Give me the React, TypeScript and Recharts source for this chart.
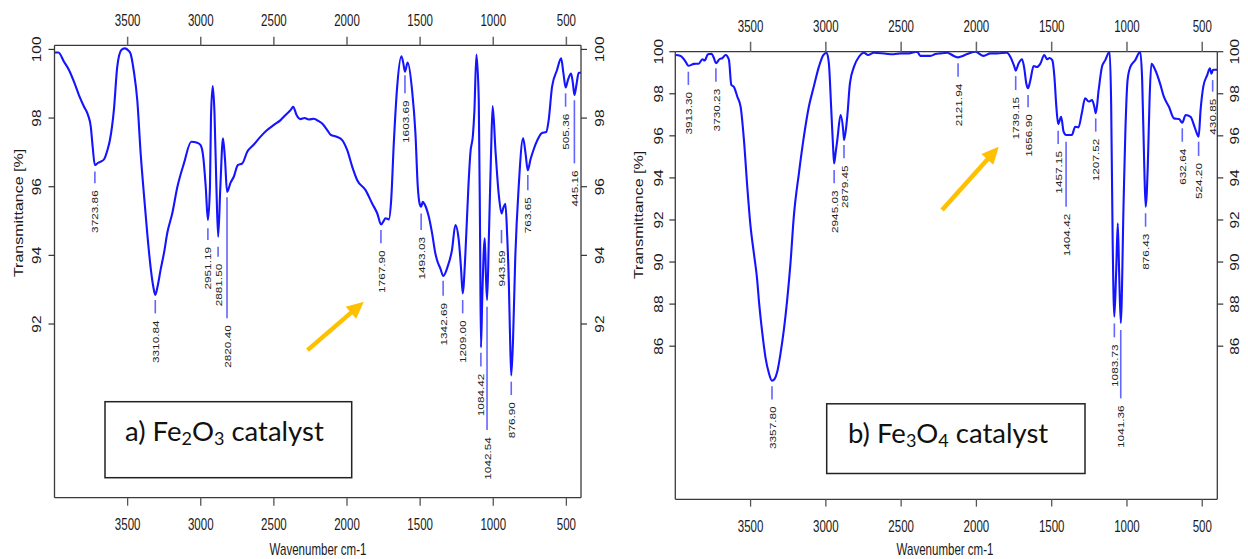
import React from 'react';
import { ComposedChart, Line, XAxis, YAxis, Scatter, ReferenceLine } from 'recharts';

// ---------------- Data: a) Fe2O3 catalyst ----------------
const fe2o3Wavenumber = [
  4000, 3973, 3935, 3901, 3867, 3833, 3798, 3771, 3752, 3739, 3724, 3700, 3684, 3661, 3638, 3621, 3594, 3571, 3543, 3520,
  3495, 3480, 3457, 3434, 3411, 3389, 3366, 3343, 3325, 3311, 3295, 3275, 3250, 3229, 3195, 3160, 3115, 3065, 3024, 3001,
  2983, 2966, 2951, 2937, 2930, 2918, 2906, 2893, 2881, 2866, 2848, 2834, 2820, 2796, 2774, 2747, 2716, 2682, 2637, 2591,
  2546, 2500, 2454, 2420, 2386, 2368, 2345, 2318, 2290, 2261, 2227, 2193, 2170, 2135, 2113, 2067, 2033, 1999, 1964, 1930,
  1873, 1828, 1793, 1767, 1750, 1737, 1714, 1698, 1680, 1657, 1628, 1615, 1604, 1585, 1555, 1532, 1516, 1503, 1493, 1482,
  1471, 1441, 1418, 1396, 1384, 1360, 1342, 1312, 1282, 1259, 1236, 1220, 1209, 1191, 1170, 1156, 1139, 1129, 1115, 1099,
  1090, 1084, 1075, 1058, 1050, 1042, 1030, 1015, 1004, 985, 963, 943, 930, 917, 905, 894, 885, 877, 865, 850,
  826, 796, 780, 764, 745, 725, 698, 668, 637, 621, 598, 564, 536, 520, 505, 490, 468, 455, 445, 430,
  416, 400,
];
const fe2o3Transmittance = [
  99.91, 99.91, 99.64, 99.4, 99.06, 98.67, 98.33, 98.09, 97.75, 97.16, 96.63, 96.7, 96.73, 96.8, 97.07, 97.36, 98.23, 99.49, 99.98, 100.03,
  99.97, 99.88, 99.35, 98.52, 96.98, 95.8, 94.65, 93.66, 93.1, 92.85, 93.1, 93.57, 94.1, 94.65, 95.22, 95.99, 96.68, 97.31, 97.28, 97.21,
  96.87, 96.0, 95.03, 96.0, 98.04, 98.93, 98.14, 96.0, 94.54, 96.0, 97.41, 96.78, 95.85, 96.12, 96.29, 96.63, 96.68, 97.02, 97.23, 97.46,
  97.65, 97.8, 97.94, 98.09, 98.23, 98.33, 98.09, 97.97, 98.0, 97.96, 97.98, 97.91, 97.84, 97.65, 97.52, 97.45, 97.36, 97.07, 96.58, 96.19,
  95.9, 95.51, 95.22, 94.9, 95.0, 95.08, 95.05, 95.61, 97.27, 98.91, 99.8, 99.6, 99.35, 99.62, 98.81, 97.55, 96.0, 95.5, 95.42, 95.56,
  95.5, 95.13, 94.64, 94.06, 93.86, 93.6, 93.4, 93.67, 94.16, 94.88, 94.45, 93.6, 92.89, 94.0, 96.0, 97.0, 97.5, 98.2, 99.85, 98.52,
  94.5, 91.32, 92.8, 94.5, 93.4, 92.7, 94.5, 97.0, 98.35, 97.07, 95.8, 95.22, 95.4, 95.5, 94.6, 93.3, 91.6, 90.5, 91.5, 93.86,
  96.0, 97.41, 97.0, 96.48, 96.8, 97.07, 97.36, 97.56, 97.6, 97.94, 98.91, 99.4, 99.74, 99.3, 98.89, 99.1, 99.3, 99.0, 98.67, 99.0,
  99.32, 99.32,
];
const fe2o3PeakLabels = [
  '3723.86', '3310.84', '2951.19', '2881.50', '2820.40', '1767.90', '1603.69', '1493.03', '1342.69',
  '1209.00', '1084.42', '1042.54', '943.59', '876.90', '763.65', '505.36', '445.16',
];
const fe2o3PeakLineTop = [96.44, 92.7, 94.79, 94.25, 95.69, 94.74, 99.25, 95.22, 93.26, 92.7, 91.16, 92.5, 94.74, 90.32, 96.34, 98.72, 98.52];
const fe2o3PeakLineBottom = [96.1, 92.31, 94.45, 93.96, 92.17, 94.35, 98.72, 94.74, 92.82, 92.31, 90.76, 88.91, 94.35, 89.93, 95.9, 98.33, 96.68];
const fe2o3ArrowTail = { x: 2270, y: 91.24 };
const fe2o3ArrowHead = { x: 1885, y: 92.65 };
const fe2o3YTicks = [92, 94, 96, 98, 100];
const fe2o3YDomain: [number, number] = [86.94, 100.12];

// ---------------- Data: b) Fe3O4 catalyst ----------------
const fe3o4Wavenumber = [
  4000, 3965, 3931, 3913, 3876, 3845, 3820, 3805, 3783, 3760, 3743, 3730, 3707, 3687, 3666, 3644, 3628, 3611, 3588, 3566,
  3544, 3522, 3500, 3478, 3456, 3445, 3422, 3400, 3378, 3358, 3340, 3323, 3301, 3279, 3257, 3235, 3213, 3179, 3146, 3113,
  3080, 3046, 3017, 2995, 2980, 2964, 2951, 2945, 2935, 2924, 2902, 2885, 2879, 2858, 2840, 2813, 2780, 2747, 2720, 2681,
  2600, 2550, 2500, 2450, 2394, 2372, 2305, 2272, 2239, 2194, 2150, 2122, 2090, 2062, 2007, 1952, 1907, 1863, 1797, 1775,
  1748, 1739, 1720, 1697, 1682, 1669, 1657, 1643, 1620, 1598, 1576, 1549, 1531, 1514, 1496, 1482, 1469, 1457, 1437, 1421,
  1404, 1366, 1344, 1322, 1300, 1278, 1254, 1232, 1217, 1207, 1188, 1166, 1144, 1115, 1105, 1095, 1084, 1072, 1061, 1052,
  1041, 1022, 1011, 996, 978, 945, 912, 899, 885, 876, 862, 850, 838, 812, 779, 755, 721, 688, 654, 633,
  610, 577, 555, 540, 524, 511, 493, 467, 449, 439, 428, 400,
];
const fe3o4Transmittance = [
  99.84, 99.8, 99.52, 99.33, 99.42, 99.43, 99.64, 99.58, 99.88, 99.9, 99.69, 99.45, 99.64, 99.7, 99.84, 99.62, 98.42, 98.33, 97.86, 97.38,
  95.8, 93.58, 91.68, 90.41, 89.14, 88.19, 86.62, 85.42, 84.71, 84.36, 84.45, 84.78, 85.66, 86.77, 88.19, 89.94, 92.15, 94.22, 95.96, 97.38,
  98.34, 99.29, 99.84, 99.95, 99.45, 97.23, 95.33, 94.69, 95.2, 95.8, 96.99, 96.28, 95.8, 96.9, 98.5, 99.29, 99.76, 99.95, 99.84, 99.95,
  99.9, 99.88, 99.92, 99.92, 100.0, 99.8, 99.8, 99.89, 99.92, 99.95, 99.8, 99.73, 99.8, 99.89, 100.0, 99.8, 99.92, 99.92, 99.95, 99.76,
  99.29, 99.1, 99.44, 99.64, 99.21, 98.5, 98.26, 98.6, 99.32, 99.27, 99.42, 99.84, 99.64, 99.7, 99.6, 98.81, 97.38, 96.56, 96.91, 96.2,
  96.04, 96.04, 96.43, 96.4, 97.07, 97.78, 97.63, 97.7, 97.39, 97.07, 98.18, 99.29, 99.6, 100.0, 97.5, 91.0, 87.4, 89.5, 91.84, 89.5,
  87.1, 92.95, 96.1, 98.65, 99.27, 99.6, 100.0, 98.65, 94.53, 92.63, 94.5, 97.7, 99.42, 99.13, 98.46, 97.86, 97.38, 96.83, 96.8, 96.62,
  96.99, 96.9, 96.51, 96.2, 95.96, 97.23, 98.34, 98.89, 99.21, 98.96, 99.14, 99.14,
];
const fe3o4PeakLabels = [
  '3913.30', '3730.23', '3357.80', '2945.03', '2879.45', '2121.94', '1739.15', '1656.90', '1457.15',
  '1404.42', '1207.52', '1083.73', '1041.36', '876.43', '632.64', '524.20', '430.85',
];
const fe3o4PeakLineTop = [99.05, 99.21, 84.1, 94.37, 95.56, 99.45, 98.84, 97.94, 96.24, 95.72, 96.83, 87.08, 86.77, 92.32, 96.36, 95.72, 98.65];
const fe3o4PeakLineBottom = [98.42, 98.57, 83.47, 93.74, 94.93, 98.81, 98.18, 97.36, 95.61, 92.63, 96.2, 86.42, 83.52, 91.68, 95.72, 95.04, 98.1];
const fe3o4ArrowTail = { x: 2228, y: 92.47 };
const fe3o4ArrowHead = { x: 1852, y: 95.48 };
const fe3o4YTicks = [86, 88, 90, 92, 94, 96, 98, 100];
const fe3o4YDomain: [number, number] = [78.72, 100.0];

// shared
const xTicks = [3500, 3000, 2500, 2000, 1500, 1000, 500];
const xDomain: [number, number] = [400, 4000];

// ---------------- rendering helpers ----------------
const FONT = '"Liberation Sans", Arial, Helvetica, sans-serif';
const SQX = 0.72;
const AXIS_COLOR = '#3a3a3a';
const CURVE_COLOR = '#1414ff';
const PEAK_LINE_COLOR = '#6464ff';

const XTick = (props: any) => {
  const { x, y, payload } = props;
  return (
    <text
      transform={`translate(${x},${y}) scale(${SQX},1)`}
      textAnchor="middle"
      dominantBaseline="central"
      fontSize={16}
      fontFamily={FONT}
      fill="#1a1a1a"
    >
      {payload.value}
    </text>
  );
};

const YTick = (props: any) => {
  const { x, y, payload } = props;
  return (
    <text
      transform={`translate(${x},${y}) scale(0.8,1) rotate(-90)`}
      textAnchor="middle"
      dominantBaseline="central"
      fontSize={15.5}
      fontFamily={FONT}
      fill="#1a1a1a"
    >
      {payload.value}
    </text>
  );
};

const PeakLabel = (props: any) => {
  const { cx, cy, payload } = props;
  if (cx == null || cy == null) return <g />;
  return (
    <text
      transform={`translate(${cx},${cy + 7}) scale(0.82,1) rotate(-90)`}
      textAnchor="end"
      dominantBaseline="central"
      fontSize={11.8}
      fontFamily={FONT}
      fill="#222"
    >
      {payload.label}
    </text>
  );
};

const ArrowShape = (props: any) => {
  const { x1, y1, x2, y2 } = props;
  if ([x1, y1, x2, y2].some((v) => v == null || Number.isNaN(v))) return <g />;
  const dx = x2 - x1;
  const dy = y2 - y1;
  const len = Math.hypot(dx, dy) || 1;
  const ux = dx / len;
  const uy = dy / len;
  const headLen = 17;
  const headW = 8;
  const bx = x2 - ux * headLen;
  const by = y2 - uy * headLen;
  const px = -uy;
  const py = ux;
  return (
    <g>
      <line x1={x1} y1={y1} x2={bx + ux} y2={by + uy} stroke="#FFC000" strokeWidth={4.5} />
      <polygon
        points={`${x2},${y2} ${bx + px * headW},${by + py * headW} ${bx - px * headW},${by - py * headW}`}
        fill="#FFC000"
      />
    </g>
  );
};

type PanelProps = {
  left: number;
  width: number;
  height: number;
  plotLeft: number;
  plotTop: number;
  plotRight: number;
  plotBottom: number;
  topTick: [number, number];
  bottomTick: [number, number];
  leftTick: [number, number];
  rightTick: [number, number];
  yDomain: [number, number];
  yTicks: number[];
  wavenumber: number[];
  transmittance: number[];
  peakLabels: string[];
  peakTop: number[];
  peakBottom: number[];
  arrowTail: { x: number; y: number };
  arrowHead: { x: number; y: number };
};

function Panel(p: PanelProps) {
  const series = p.wavenumber.map((w, i) => ({ w, t: p.transmittance[i] }));
  const peaks = p.peakLabels.map((label, i) => ({
    w: parseFloat(label),
    top: p.peakTop[i],
    bottom: p.peakBottom[i],
    label,
  }));
  return (
    <div style={{ position: 'absolute', left: p.left, top: 0, width: p.width, height: p.height }}>
      <ComposedChart width={p.width} height={p.height} margin={{ top: 0, right: 0, bottom: 0, left: 0 }}>
        <XAxis
          xAxisId="t"
          orientation="top"
          type="number"
          dataKey="w"
          domain={xDomain}
          allowDataOverflow
          reversed
          ticks={xTicks}
          height={p.plotTop}
          tickSize={p.topTick[0]}
          tickMargin={p.topTick[1]}
          tick={XTick}
          stroke={AXIS_COLOR}
          axisLine={{ stroke: AXIS_COLOR, strokeWidth: 1.3 }}
          tickLine={{ stroke: '#666', strokeWidth: 1.5 }}
        />
        <XAxis
          xAxisId="b"
          orientation="bottom"
          type="number"
          dataKey="w"
          domain={xDomain}
          allowDataOverflow
          reversed
          ticks={xTicks}
          height={p.height - p.plotBottom}
          tickSize={p.bottomTick[0]}
          tickMargin={p.bottomTick[1]}
          tick={XTick}
          stroke={AXIS_COLOR}
          axisLine={{ stroke: AXIS_COLOR, strokeWidth: 1.3 }}
          tickLine={{ stroke: '#555', strokeWidth: 1.3 }}
        />
        <YAxis
          yAxisId="l"
          orientation="left"
          type="number"
          domain={p.yDomain}
          allowDataOverflow
          ticks={p.yTicks}
          width={p.plotLeft}
          tickSize={p.leftTick[0]}
          tickMargin={p.leftTick[1]}
          tick={YTick}
          stroke={AXIS_COLOR}
          axisLine={{ stroke: AXIS_COLOR, strokeWidth: 1.3 }}
          tickLine={{ stroke: '#333', strokeWidth: 1.2 }}
        />
        <YAxis
          yAxisId="r"
          orientation="right"
          type="number"
          domain={p.yDomain}
          allowDataOverflow
          ticks={p.yTicks}
          width={p.width - p.plotRight}
          tickSize={p.rightTick[0]}
          tickMargin={p.rightTick[1]}
          tick={YTick}
          stroke={AXIS_COLOR}
          axisLine={{ stroke: AXIS_COLOR, strokeWidth: 1.3 }}
          tickLine={{ stroke: '#333', strokeWidth: 1.2 }}
        />
        {peaks.map((pk) => (
          <ReferenceLine
            key={'pl' + pk.label}
            xAxisId="b"
            yAxisId="l"
            segment={[
              { x: pk.w, y: pk.top },
              { x: pk.w, y: pk.bottom },
            ]}
            stroke={PEAK_LINE_COLOR}
            strokeWidth={1.6}
            ifOverflow="visible"
          />
        ))}
        <Line
          xAxisId="b"
          yAxisId="l"
          data={series}
          dataKey="t"
          type="monotone"
          stroke={CURVE_COLOR}
          strokeWidth={2.1}
          dot={false}
          activeDot={false}
          isAnimationActive={false}
        />
        <Scatter
          xAxisId="b"
          yAxisId="l"
          data={peaks}
          dataKey="bottom"
          shape={PeakLabel}
          isAnimationActive={false}
        />
        <ReferenceLine
          xAxisId="b"
          yAxisId="l"
          segment={[p.arrowTail, p.arrowHead]}
          shape={ArrowShape}
          ifOverflow="visible"
        />
      </ComposedChart>
    </div>
  );
}

function Overlay() {
  const titleStyle = { fontFamily: FONT, fontSize: 16, fill: '#1a1a1a' } as const;
  const boxFont = 'Lato, "Open Sans", sans-serif';
  return (
    <svg
      width={1248}
      height={559}
      style={{ position: 'absolute', left: 0, top: 0, pointerEvents: 'none' }}
    >
      {/* axis titles */}
      <text transform={`translate(19,213) scale(0.78,1) rotate(-90)`} textAnchor="middle" dominantBaseline="central" {...titleStyle}>
        Transmittance [%]
      </text>
      <text transform={`translate(639,215) scale(0.78,1) rotate(-90)`} textAnchor="middle" dominantBaseline="central" {...titleStyle}>
        Transmittance [%]
      </text>
      <text transform={`translate(318,549) scale(${SQX},1)`} textAnchor="middle" dominantBaseline="central" {...titleStyle}>
        Wavenumber cm-1
      </text>
      <text transform={`translate(945,549) scale(${SQX},1)`} textAnchor="middle" dominantBaseline="central" {...titleStyle}>
        Wavenumber cm-1
      </text>

      {/* sample boxes */}
      <rect x={105} y={401.7} width={246.7} height={76} fill="#fff" stroke="#222" strokeWidth={1.5} />
      <text x={125} y={441} fontFamily={boxFont} fontSize={27.5} fill="#111">
        a) Fe
        <tspan fontSize={18} dy={4}>2</tspan>
        <tspan dy={-4}>O</tspan>
        <tspan fontSize={18} dy={4}>3</tspan>
        <tspan dy={-4}> catalyst</tspan>
      </text>
      <rect x={826.7} y={403.8} width={258.3} height={69.7} fill="#fff" stroke="#222" strokeWidth={1.5} />
      <text x={848} y={442.7} fontFamily={boxFont} fontSize={27.5} fill="#111">
        b) Fe
        <tspan fontSize={18} dy={4}>3</tspan>
        <tspan dy={-4}>O</tspan>
        <tspan fontSize={18} dy={4}>4</tspan>
        <tspan dy={-4}> catalyst</tspan>
      </text>
    </svg>
  );
}

export default function App() {
  return (
    <div style={{ position: 'absolute', left: 0, top: 0, width: 1248, height: 559, background: '#fff', overflow: 'hidden' }}>
      <Panel
        left={0}
        width={620}
        height={559}
        plotLeft={54.5}
        plotTop={45.3}
        plotRight={581}
        plotBottom={497.7}
        topTick={[8.6, 16]}
        bottomTick={[8, 18.3]}
        leftTick={[6, 11.8]}
        rightTick={[6, 13]}
        yDomain={fe2o3YDomain}
        yTicks={fe2o3YTicks}
        wavenumber={fe2o3Wavenumber}
        transmittance={fe2o3Transmittance}
        peakLabels={fe2o3PeakLabels}
        peakTop={fe2o3PeakLineTop}
        peakBottom={fe2o3PeakLineBottom}
        arrowTail={fe2o3ArrowTail}
        arrowHead={fe2o3ArrowHead}
      />
      <Panel
        left={620}
        width={628}
        height={559}
        plotLeft={55.3}
        plotTop={51.7}
        plotRight={597.3}
        plotBottom={499.3}
        topTick={[10, 15.7]}
        bottomTick={[7.3, 20]}
        leftTick={[6, 11]}
        rightTick={[6, 11.7]}
        yDomain={fe3o4YDomain}
        yTicks={fe3o4YTicks}
        wavenumber={fe3o4Wavenumber}
        transmittance={fe3o4Transmittance}
        peakLabels={fe3o4PeakLabels}
        peakTop={fe3o4PeakLineTop}
        peakBottom={fe3o4PeakLineBottom}
        arrowTail={fe3o4ArrowTail}
        arrowHead={fe3o4ArrowHead}
      />
      <Overlay />
    </div>
  );
}
